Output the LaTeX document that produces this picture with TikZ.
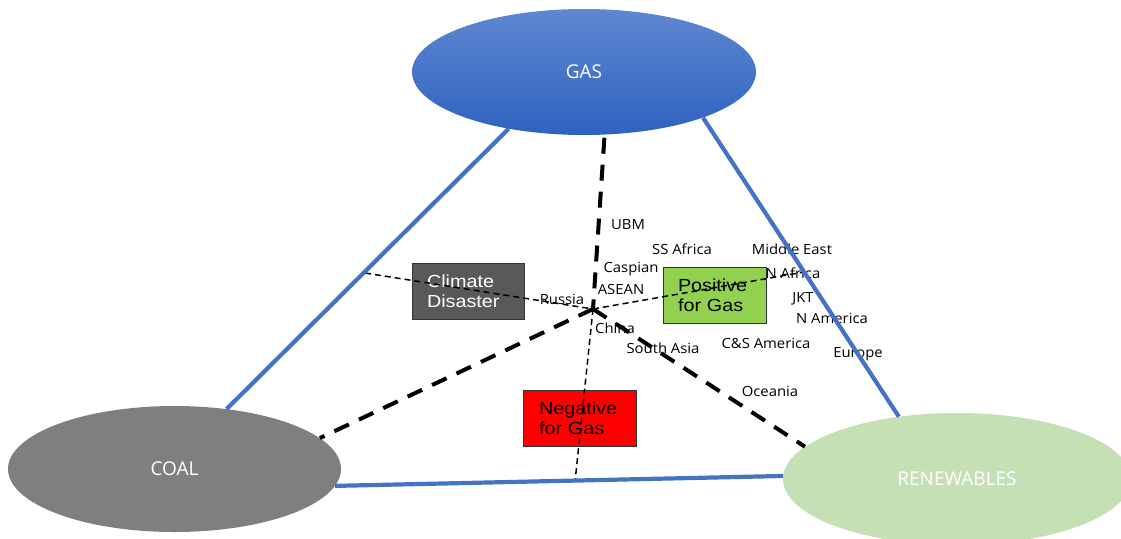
\documentclass[tikz,border=0pt]{standalone}
\usepackage{fontspec}
\setmainfont{Open Sans}
\newfontfamily\labfont[FakeStretch=1.06]{Open Sans}
\newfontfamily\boxfont[FakeStretch=1.13]{Liberation Sans}
\usetikzlibrary{shapes.geometric}
\definecolor{edgeblue}{RGB}{68,114,196}
\definecolor{gastop}{RGB}{95,135,209}
\definecolor{gasbot}{RGB}{46,98,192}
\definecolor{coalgray}{RGB}{127,127,127}
\definecolor{rengreen}{RGB}{197,224,180}
\definecolor{climgray}{RGB}{89,89,89}
\definecolor{posgreen}{RGB}{146,208,80}
\tikzset{
  bigell/.style={ellipse, inner sep=0pt, text=white, font=\fontsize{19}{22}\selectfont},
  lab/.style={inner sep=0pt, font=\labfont\fontsize{14}{16}\selectfont},
  factor/.style={rectangle, draw=black!80, line width=1pt, inner xsep=15pt, inner ysep=0pt,
    align=left, font=\boxfont\fontsize{17.5}{20}\selectfont},
  edge/.style={draw=edgeblue, line width=4.2pt},
  thickdash/.style={draw=black, line width=4pt, dash pattern=on 16pt off 11pt},
  thindash/.style={draw=black, line width=1.5pt, dash pattern=on 6pt off 4pt}
}
\begin{document}
\begin{tikzpicture}[x=1pt,y=-1pt]
\useasboundingbox (0,0) rectangle (1121,538);
% vertices
\node[bigell, minimum width=344pt, minimum height=126pt, top color=gastop, bottom color=gasbot] (gas) at (584,72) {GAS};
\node[bigell, minimum width=333pt, minimum height=126pt, fill=coalgray] (coal) at (174.5,469) {COAL};
\node[bigell, minimum width=348pt, minimum height=132pt, fill=rengreen] (ren) at (957,479) {RENEWABLES};
% labels
\node[lab] (ubm) at (628,225) {UBM};
\node[lab] (ssaf) at (682,249) {SS Africa};
\node[lab] (mide) at (792,249) {Middle East};
\node[lab] (casp) at (631,269) {Caspian};
\node[lab] (naf) at (793,273) {N Africa};
\node[lab] (asean) at (621,289) {ASEAN};
\node[lab] (russia) at (562,299) {Russia};
\node[lab] (jkt) at (803,299) {JKT};
\node[lab] (nam) at (832,318) {N America};
\node[lab] (china) at (615,328) {China};
\node[lab] (sasia) at (663,348) {South Asia};
\node[lab] (csam) at (766,343) {C\&S America};
\node[lab] (europe) at (858,354) {Europe};
\node[lab] (oceania) at (770,391) {Oceania};
% boxes
\node[factor, fill=climgray, text=white, text width=82pt, minimum height=56pt] (clim) at (468,291) {Climate\\Disaster};
\node[factor, fill=posgreen, text width=73pt, minimum height=56pt] (pos) at (714.5,295) {Positive\\for Gas};
\node[factor, fill=red, inner xsep=16pt, text width=81pt, minimum height=56pt] (neg) at (579.5,418) {Negative\\for Gas};
% dashed spokes
\coordinate (hub) at (593,309);
\coordinate (leftend) at (365,273);
\coordinate (rightend) at (810,271);
\coordinate (bottomend) at (575,482);
\draw[thindash] (leftend) -- (hub);
\draw[thindash] (hub) -- (rightend);
\draw[thindash] (hub) -- (bottomend);
\draw[thickdash] ([yshift=-3pt]gas.288.6) -- (hub);
\draw[thickdash] (hub) -- (coal.12);
\draw[thickdash] (hub) -- (ren.168);
% triangle edges
\draw[edge] (gas.217.6) -- (coal.49.7);
\draw[edge] (gas.339.6) -- (ren.133.6);
\draw[edge] (coal.354.4) -- (ren.179.3);
\end{tikzpicture}
\end{document}
